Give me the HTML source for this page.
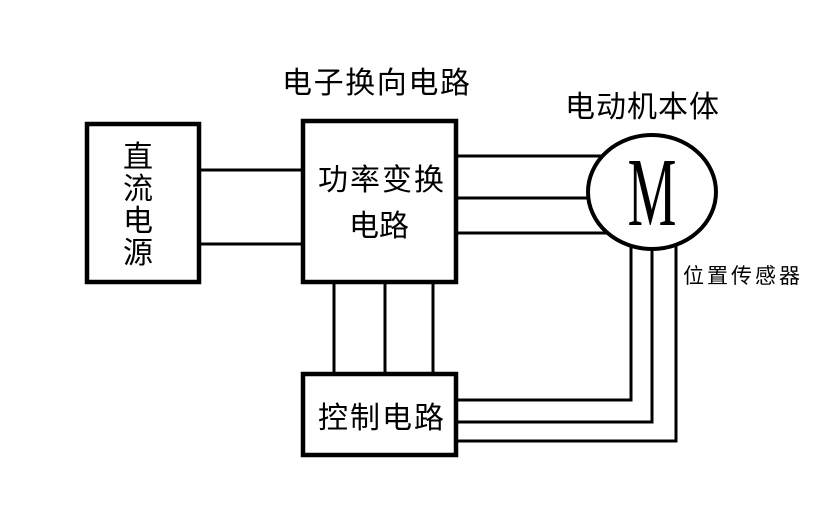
<!DOCTYPE html>
<html><head><meta charset="utf-8"><style>
html,body{margin:0;padding:0;background:#fff;}
svg{display:block;}
text{font-family:"Liberation Sans","Noto Sans CJK SC",sans-serif;fill:#000;}
</style></head><body>
<svg width="830" height="527" viewBox="0 0 830 527" xmlns="http://www.w3.org/2000/svg">
<g fill="none" stroke="#000">
<rect x="87" y="124" width="112" height="158" stroke-width="4.5"/>
<rect x="303" y="121" width="153" height="161" stroke-width="4.5"/>
<rect x="303" y="374" width="153" height="81" stroke-width="4.5"/>
<g stroke-width="3">
<line x1="199" y1="170" x2="303" y2="170"/>
<line x1="199" y1="244" x2="303" y2="244"/>
<line x1="334" y1="282" x2="334" y2="374"/>
<line x1="385" y1="282" x2="385" y2="374"/>
<line x1="433" y1="282" x2="433" y2="374"/>
<line x1="456" y1="156" x2="612" y2="156"/>
<line x1="456" y1="198" x2="589" y2="198"/>
<line x1="456" y1="233" x2="612" y2="233"/>
<polyline points="456,400 631,400 631,246"/>
<polyline points="456,422 652,422 652,248"/>
<polyline points="456,441 676,441 676,246"/>
</g>
<ellipse cx="652" cy="192" rx="64" ry="57" stroke-width="4" fill="#fff"/>
</g>
<text x="282" y="93" font-size="30" textLength="188">电子换向电路</text>
<text x="565" y="117" font-size="30" textLength="154">电动机本体</text>
<text x="683" y="283" font-size="21" textLength="117">位置传感器</text>
<text x="318" y="190" font-size="30" textLength="126">功率变换</text>
<text x="349" y="236" font-size="30">电路</text>
<text x="318" y="428" font-size="30" textLength="126">控制电路</text>
<text x="123" y="167" font-size="30">直</text>
<text x="123" y="199" font-size="30">流</text>
<text x="123" y="231" font-size="30">电</text>
<text x="123" y="263" font-size="30">源</text>
<text x="652" y="225" font-size="98" text-anchor="middle" style="font-family:'Liberation Serif',serif" transform="translate(652 0) scale(0.56 1) translate(-652 0)">M</text>
</svg>
</body></html>
